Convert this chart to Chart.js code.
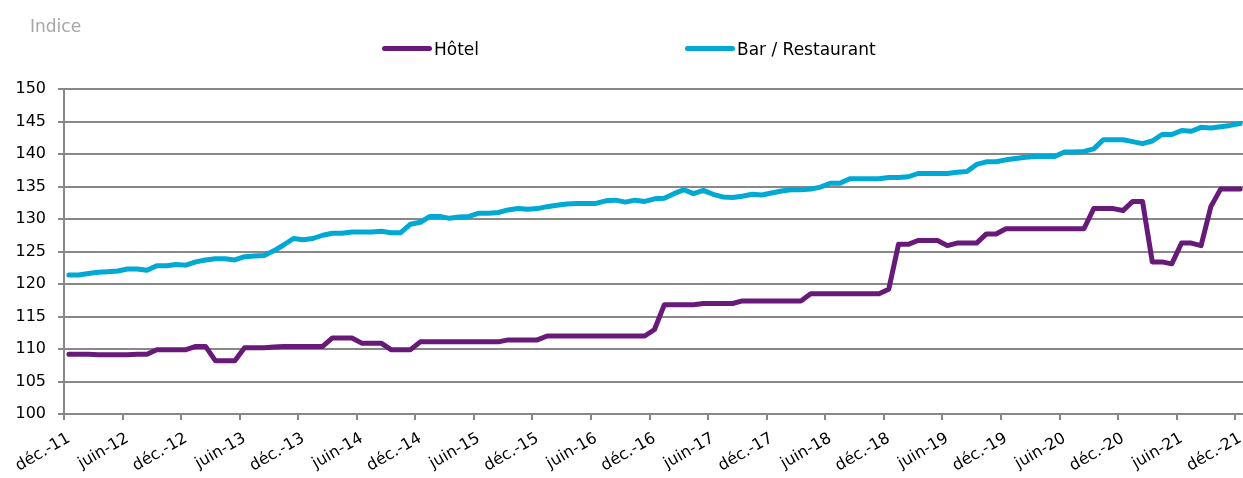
<!DOCTYPE html>
<html lang="fr">

<head>
    <meta charset="UTF-8">
    <title>Indice Hôtel - Bar / Restaurant</title>
    <script src="https://cdn.jsdelivr.net/npm/chart.js@4.4.0/dist/chart.umd.min.js"></script>
    <style>
        html, body { margin: 0; padding: 0; background: #fff; overflow: hidden; }
        canvas { display: block; }
    </style>
</head>

<body>
    <canvas id="indexChart" width="1247" height="478"></canvas>
    <script>
        // monthly categories, déc.-11 .. déc.-21
        const monthNames = ['janv.', 'févr.', 'mars', 'avr.', 'mai', 'juin', 'juil.', 'août', 'sept.', 'oct.', 'nov.', 'déc.']
        const months = ['déc.-11']
        for (let y = 12; y <= 21; y++) {
            for (const m of monthNames) months.push(m + '-' + y)
        }

        // labels shown under the axis (one every 6 months)
        const tickLabels = ['déc.-11', 'juin-12', 'déc.-12', 'juin-13', 'déc.-13', 'juin-14', 'déc.-14',
            'juin-15', 'déc.-15', 'juin-16', 'déc.-16', 'juin-17', 'déc.-17', 'juin-18', 'déc.-18',
            'juin-19', 'déc.-19', 'juin-20', 'déc.-20', 'juin-21', 'déc.-21']

        const hotel = [
            109.2, 109.2, 109.2, 109.1, 109.1, 109.1, 109.1, 109.2, 109.2, 109.9,
            109.9, 109.9, 109.9, 110.4, 110.4, 108.2, 108.2, 108.2, 110.2, 110.2,
            110.2, 110.3, 110.4, 110.4, 110.4, 110.4, 110.4, 111.7, 111.7, 111.7,
            110.9, 110.9, 110.9, 109.9, 109.9, 109.9, 111.1, 111.1, 111.1, 111.1,
            111.1, 111.1, 111.1, 111.1, 111.1, 111.4, 111.4, 111.4, 111.4, 112.0,
            112.0, 112.0, 112.0, 112.0, 112.0, 112.0, 112.0, 112.0, 112.0, 112.0,
            113.0, 116.8, 116.8, 116.8, 116.8, 117.0, 117.0, 117.0, 117.0, 117.4,
            117.4, 117.4, 117.4, 117.4, 117.4, 117.4, 118.5, 118.5, 118.5, 118.5,
            118.5, 118.5, 118.5, 118.5, 119.2, 126.1, 126.1, 126.7, 126.7, 126.7,
            125.9, 126.3, 126.3, 126.3, 127.7, 127.7, 128.5, 128.5, 128.5, 128.5,
            128.5, 128.5, 128.5, 128.5, 128.5, 131.6, 131.6, 131.6, 131.3, 132.7,
            132.7, 123.4, 123.4, 123.1, 126.3, 126.3, 125.9, 131.9, 134.6, 134.6,
            134.6
        ]

        const barRestaurant = [
            121.4, 121.4, 121.6, 121.8, 121.9, 122.0, 122.3, 122.3, 122.1, 122.8,
            122.8, 123.0, 122.9, 123.4, 123.7, 123.9, 123.9, 123.7, 124.2, 124.3,
            124.4, 125.1, 126.0, 127.0, 126.8, 127.0, 127.5, 127.8, 127.8, 128.0,
            128.0, 128.0, 128.1, 127.9, 127.9, 129.2, 129.5, 130.4, 130.4, 130.1,
            130.3, 130.4, 130.9, 130.9, 131.0, 131.4, 131.6, 131.5, 131.6, 131.9,
            132.1, 132.3, 132.4, 132.4, 132.4, 132.8, 132.9, 132.6, 132.9, 132.7,
            133.1, 133.2, 133.9, 134.5, 133.9, 134.4, 133.8, 133.4, 133.3, 133.5,
            133.8, 133.7, 134.0, 134.3, 134.5, 134.5, 134.6, 134.9, 135.5, 135.5,
            136.2, 136.2, 136.2, 136.2, 136.4, 136.4, 136.5, 137.0, 137.0, 137.0,
            137.0, 137.2, 137.3, 138.4, 138.8, 138.8, 139.1, 139.3, 139.5, 139.6,
            139.6, 139.6, 140.3, 140.3, 140.4, 140.8, 142.2, 142.2, 142.2, 141.9,
            141.6, 142.0, 143.0, 143.0, 143.6, 143.5, 144.1, 144.0, 144.2, 144.4,
            144.7
        ]

        const seriesNames = ['Hôtel', 'Bar / Restaurant']
        const yTitle = 'Indice'

        const gridGrey = '#888888'
        Chart.defaults.font.family = '"DejaVu Sans", sans-serif'
        Chart.defaults.color = '#000'

        // legend + "Indice" drawn by hand, Excel-like placement
        const topLegend = {
            id: 'topLegend',
            afterDraw(chart) {
                const ctx = chart.ctx
                const startX = [382, 685]
                ctx.save()
                ctx.font = '17px "DejaVu Sans", sans-serif'
                ctx.textBaseline = 'alphabetic'
                ctx.fillStyle = '#a6a6a6'
                ctx.fillText(yTitle, 30, 32)
                chart.data.datasets.forEach((ds, i) => {
                    const x = startX[i]
                    ctx.strokeStyle = ds.borderColor
                    ctx.lineWidth = 5
                    ctx.lineCap = 'round'
                    ctx.beginPath()
                    ctx.moveTo(x + 2.5, 48.5)
                    ctx.lineTo(x + 47.5, 48.5)
                    ctx.stroke()
                    ctx.fillStyle = '#000'
                    ctx.fillText(ds.label, x + 52, 55)
                })
                ctx.restore()
            }
        }

        new Chart(document.getElementById('indexChart').getContext('2d'), {
            type: 'line',
            data: {
                labels: months,
                datasets: [{
                    label: seriesNames[0],
                    data: hotel,
                    borderColor: '#681a78',
                    borderWidth: 5,
                    pointRadius: 0,
                    borderJoinStyle: 'round',
                    borderCapStyle: 'round',
                    tension: 0
                }, {
                    label: seriesNames[1],
                    data: barRestaurant,
                    borderColor: '#00a9d3',
                    borderWidth: 5,
                    pointRadius: 0,
                    borderJoinStyle: 'round',
                    borderCapStyle: 'round',
                    tension: 0
                }]
            },
            options: {
                responsive: false,
                animation: false,
                layout: { padding: { top: 89, right: 2, left: 0, bottom: 0 } },
                plugins: {
                    legend: { display: false },
                    tooltip: { enabled: false }
                },
                scales: {
                    x: {
                        offset: true,
                        afterFit: (scale) => {
                            // fixed axis height, no extra side padding for rotated labels
                            scale.height = 64
                            scale.paddingLeft = 0
                            scale.paddingRight = 0
                        },
                        border: { display: false },
                        grid: {
                            offset: true,
                            drawOnChartArea: false,
                            drawTicks: true,
                            tickLength: 6,
                            lineWidth: 2,
                            color: (ctx) => ctx.index % 6 === 0 ? gridGrey : 'rgba(0,0,0,0)'
                        },
                        ticks: {
                            autoSkip: false,
                            minRotation: 30,
                            maxRotation: 30,
                            padding: 9,
                            font: { size: 16 },
                            callback: function (value, index) {
                                const l = months[index]
                                return tickLabels.includes(l) ? l : ''
                            }
                        }
                    },
                    y: {
                        min: 100,
                        max: 150,
                        afterFit: (scale) => { scale.width = 64 },
                        border: { display: true, color: gridGrey, width: 2 },
                        grid: {
                            color: gridGrey,
                            lineWidth: 2,
                            drawTicks: true,
                            tickLength: 6
                        },
                        ticks: {
                            stepSize: 5,
                            padding: 12,
                            font: { size: 16 }
                        }
                    }
                }
            },
            plugins: [topLegend]
        });
    </script>
</body>

</html>
